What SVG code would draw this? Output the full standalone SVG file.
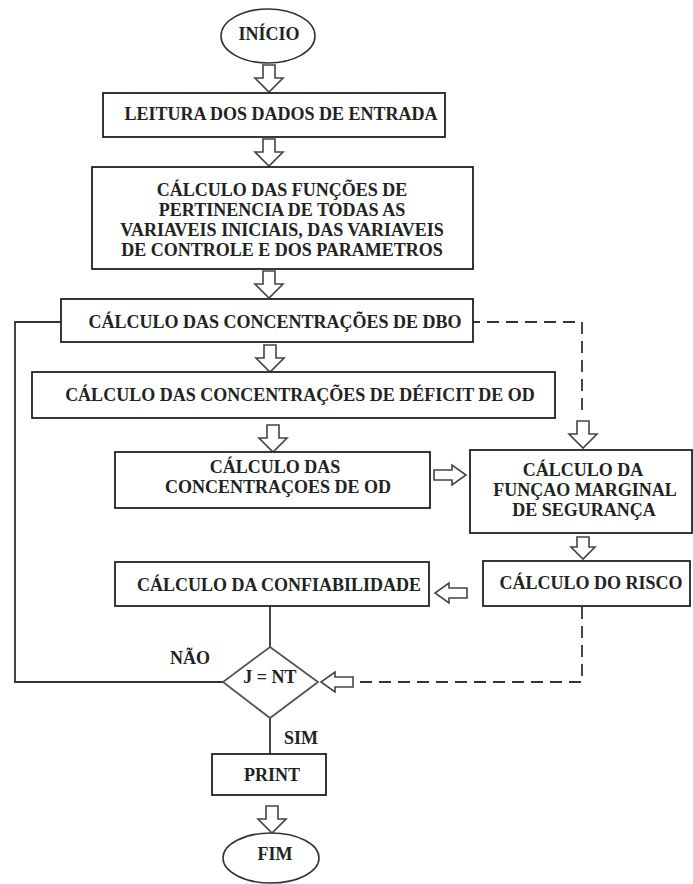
<svg xmlns="http://www.w3.org/2000/svg" xmlns:xlink="http://www.w3.org/1999/xlink" width="693" height="884" viewBox="0 0 693 884">
<style>
  .box { fill: #ffffff; stroke: #222222; stroke-width: 1.8; }
  .term { fill: #ffffff; stroke: #333333; stroke-width: 1.6; }
  .dia { fill: #ffffff; stroke: #555555; stroke-width: 1.8; }
  .t { font-family: "Liberation Serif", "Times New Roman", serif; font-weight: bold; font-size: 18px; fill: #222222; text-anchor: middle; }
  .ln { fill: none; stroke: #333333; stroke-width: 1.8; }
  .dash { fill: none; stroke: #333333; stroke-width: 1.8; stroke-dasharray: 12 7; }
  .ba { fill: #ffffff; stroke: #444444; stroke-width: 1.6; stroke-linejoin: miter; }
</style>
<defs>
  <path id="down" d="M-6,0 H6 V13 H14 L0,27 L-14,13 H-6 Z"/>
  <path id="downS" d="M-6,0 H6 V10 H12 L0,22 L-12,10 H-6 Z"/>
  <path id="right" d="M0,-5 H18 V-10 L32,0 L18,10 V5 H0 Z"/>
  <path id="left" d="M0,-5 H-18 V-10 L-32,0 L-18,10 V5 H0 Z"/>
</defs>
<rect width="693" height="884" fill="#ffffff"/>

<g id="connectors">
  <polyline class="ln" points="72,322 15,322 15,682 223,682"/>
  <line class="ln" x1="270" y1="606" x2="270" y2="647"/>
  <line class="ln" x1="270" y1="718" x2="270" y2="760"/>
  <polyline class="dash" points="468,322 582,322 582,416"/>
  <polyline class="dash" points="582,607 582,682 354,682"/>
  <use href="#down" xlink:href="#down" class="ba" x="269" y="65"/>
  <use href="#down" xlink:href="#down" class="ba" x="269" y="139"/>
  <use href="#down" xlink:href="#down" class="ba" x="269" y="271"/>
  <use href="#down" xlink:href="#down" class="ba" x="270" y="345"/>
  <use href="#down" xlink:href="#down" class="ba" x="273" y="425"/>
  <use href="#down" xlink:href="#down" class="ba" x="583" y="421"/>
  <use href="#right" xlink:href="#right" class="ba" x="434" y="475"/>
  <use href="#downS" xlink:href="#downS" class="ba" x="583" y="537"/>
  <use href="#left" xlink:href="#left" class="ba" x="467" y="593"/>
  <use href="#left" xlink:href="#left" class="ba" x="353" y="682"/>
  <use href="#down" xlink:href="#down" class="ba" x="272" y="806"/>
  <text class="t" x="190" y="664">NÃO</text>
  <text class="t" x="301" y="744">SIM</text>
</g>

<g id="inicio">
  <ellipse class="term" cx="268" cy="36" rx="47" ry="27"/>
  <text class="t" x="269" y="40">INÍCIO</text>
</g>

<g id="leitura">
  <rect class="box" x="103" y="93" width="342" height="44"/>
  <text class="t" x="281" y="120">LEITURA DOS DADOS DE ENTRADA</text>
</g>

<g id="funcoes">
  <rect class="box" x="92" y="167" width="381" height="102"/>
  <text class="t" x="282" y="196">CÁLCULO DAS FUNÇÕES DE</text>
  <text class="t" x="282" y="216">PERTINENCIA DE TODAS AS</text>
  <text class="t" x="282" y="236">VARIAVEIS INICIAIS, DAS VARIAVEIS</text>
  <text class="t" x="282" y="256">DE CONTROLE E DOS PARAMETROS</text>
</g>

<g id="dbo">
  <rect class="box" x="61" y="299" width="412" height="43"/>
  <text class="t" x="275" y="328">CÁLCULO DAS CONCENTRAÇÕES DE DBO</text>
</g>

<g id="deficit">
  <rect class="box" x="32" y="372" width="523" height="46"/>
  <text class="t" x="300" y="401">CÁLCULO DAS CONCENTRAÇÕES DE DÉFICIT DE OD</text>
</g>

<g id="od">
  <rect class="box" x="115" y="452" width="315" height="56"/>
  <text class="t" x="275" y="473">CÁLCULO DAS</text>
  <text class="t" x="278" y="493">CONCENTRAÇOES DE OD</text>
</g>

<g id="marginal">
  <rect class="box" x="470" y="450" width="222" height="83"/>
  <text class="t" x="583" y="476">CÁLCULO DA</text>
  <text class="t" x="585" y="496">FUNÇAO MARGINAL</text>
  <text class="t" x="584" y="516">DE SEGURANÇA</text>
</g>

<g id="risco">
  <rect class="box" x="483" y="561" width="207" height="45"/>
  <text class="t" x="591" y="589">CÁLCULO DO RISCO</text>
</g>

<g id="confiabilidade">
  <rect class="box" x="115" y="562" width="314" height="44"/>
  <text class="t" x="279" y="591">CÁLCULO DA CONFIABILIDADE</text>
</g>

<g id="decisao">
  <polygon class="dia" points="270,647 318,682 270,718 223,682"/>
  <text class="t" x="270" y="683">J = NT</text>
</g>

<g id="print">
  <rect class="box" x="212" y="754" width="114" height="41"/>
  <text class="t" x="272" y="781">PRINT</text>
</g>

<g id="fim">
  <ellipse class="term" cx="271" cy="858" rx="48" ry="25"/>
  <text class="t" x="275" y="860">FIM</text>
</g>
</svg>
